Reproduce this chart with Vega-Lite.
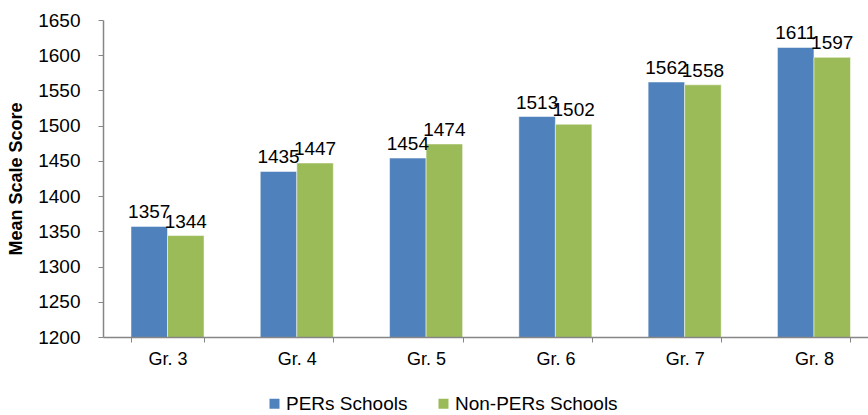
{
  "$schema": "https://vega.github.io/schema/vega-lite/v6.json",
  "autosize": "none",
  "padding": {"left": 103, "top": 20, "right": 0, "bottom": 78},
  "width": 765,
  "height": 317,
  "background": "white",
  "config": {
    "font": "Liberation Sans",
    "view": {"stroke": null},
    "axis": {"grid": false, "domainColor": "#868686", "tickColor": "#868686", "labelColor": "#000000", "titleColor": "#000000", "labelFont": "Liberation Sans", "titleFont": "Liberation Sans"}
  },
  "data": {
    "values": [
      {"grade": "Gr. 3", "group": "PERs Schools", "score": 1357},
      {"grade": "Gr. 3", "group": "Non-PERs Schools", "score": 1344},
      {"grade": "Gr. 4", "group": "PERs Schools", "score": 1435},
      {"grade": "Gr. 4", "group": "Non-PERs Schools", "score": 1447},
      {"grade": "Gr. 5", "group": "PERs Schools", "score": 1454},
      {"grade": "Gr. 5", "group": "Non-PERs Schools", "score": 1474},
      {"grade": "Gr. 6", "group": "PERs Schools", "score": 1513},
      {"grade": "Gr. 6", "group": "Non-PERs Schools", "score": 1502},
      {"grade": "Gr. 7", "group": "PERs Schools", "score": 1562},
      {"grade": "Gr. 7", "group": "Non-PERs Schools", "score": 1558},
      {"grade": "Gr. 8", "group": "PERs Schools", "score": 1611},
      {"grade": "Gr. 8", "group": "Non-PERs Schools", "score": 1597}
    ]
  },
  "encoding": {
    "x": {
      "field": "grade", "type": "nominal", "title": null,
      "scale": {"paddingInner": 0.435, "paddingOuter": 0.176, "align": 0.615},
      "axis": {"labelAngle": 0, "labelFontSize": 18, "labelPadding": 8, "tickBand": "extent", "tickSize": 5, "domainWidth": 1.5, "zindex": 1}
    },
    "xOffset": {"field": "group", "type": "nominal", "sort": ["PERs Schools", "Non-PERs Schools"]},
    "y": {
      "field": "score", "type": "quantitative", "title": "Mean Scale Score",
      "scale": {"domain": [1200, 1650], "zero": false, "nice": false},
      "axis": {"values": [1200, 1250, 1300, 1350, 1400, 1450, 1500, 1550, 1600, 1650], "format": "d", "labelFontSize": 19, "labelPadding": 18, "tickSize": 5, "titleFontSize": 18, "titleFontWeight": "bold", "titlePadding": 12, "domainWidth": 1.5, "zindex": 1}
    }
  },
  "layer": [
    {
      "mark": {"type": "bar", "stroke": "white", "strokeWidth": 0.5, "clip": true},
      "encoding": {
        "color": {
          "field": "group", "type": "nominal",
          "scale": {"domain": ["PERs Schools", "Non-PERs Schools"], "range": ["#4F81BD", "#9BBB59"]},
          "legend": {"title": null, "orient": "none", "direction": "horizontal", "legendX": 162, "legendY": 374, "symbolType": "square", "symbolSize": 100, "symbolStrokeWidth": 0, "labelFontSize": 19, "labelFont": "Liberation Sans", "labelColor": "#000000", "labelLimit": 300, "columnPadding": 26, "labelOffset": 2}
        }
      }
    },
    {
      "mark": {"type": "text", "baseline": "alphabetic", "dy": -8, "fontSize": 19, "color": "#000000"},
      "encoding": {"text": {"field": "score", "type": "quantitative", "format": "d"}}
    }
  ]
}
